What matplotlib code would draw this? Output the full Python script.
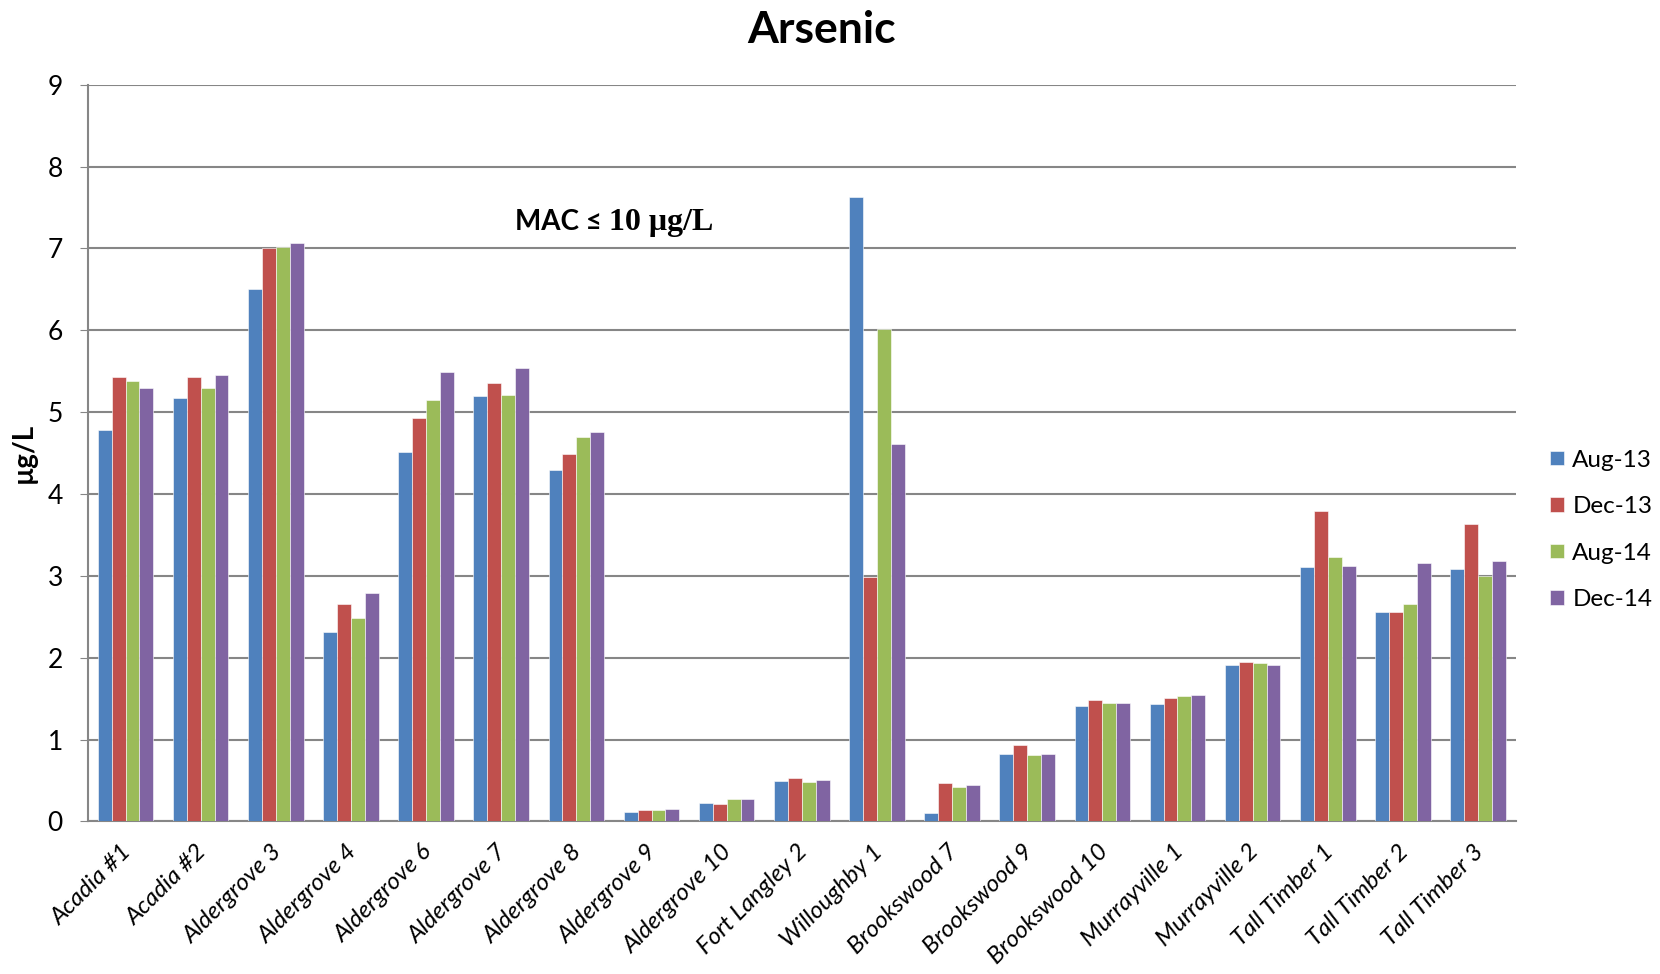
import numpy as np
import matplotlib.pyplot as plt
from matplotlib.transforms import ScaledTranslation

plt.rcParams['font.family'] = ['Lato', 'DejaVu Sans']

sites = ["Acadia #1", "Acadia #2", "Aldergrove 3", "Aldergrove 4", "Aldergrove 6",
         "Aldergrove 7", "Aldergrove 8", "Aldergrove 9", "Aldergrove 10",
         "Fort Langley 2", "Willoughby 1", "Brookswood 7", "Brookswood 9",
         "Brookswood 10", "Murrayville 1", "Murrayville 2", "Tall Timber 1",
         "Tall Timber 2", "Tall Timber 3"]

aug13 = [4.78, 5.17, 6.51, 2.31, 4.51, 5.20, 4.29, 0.12, 0.23, 0.50,
         7.63, 0.10, 0.83, 1.41, 1.44, 1.91, 3.11, 2.56, 3.08]
dec13 = [5.43, 5.43, 7.00, 2.66, 4.93, 5.36, 4.49, 0.14, 0.21, 0.53,
         2.99, 0.47, 0.93, 1.49, 1.51, 1.95, 3.79, 2.56, 3.64]
aug14 = [5.38, 5.29, 7.02, 2.49, 5.15, 5.21, 4.70, 0.14, 0.27, 0.48,
         6.02, 0.42, 0.81, 1.45, 1.53, 1.94, 3.23, 2.66, 3.00]
dec14 = [5.29, 5.46, 7.07, 2.79, 5.49, 5.54, 4.76, 0.15, 0.28, 0.51,
         4.61, 0.44, 0.82, 1.45, 1.55, 1.91, 3.12, 3.16, 3.18]

series = [("Aug-13", aug13, "#4F81BD"),
          ("Dec-13", dec13, "#C0504D"),
          ("Aug-14", aug14, "#9BBB59"),
          ("Dec-14", dec14, "#8064A2")]

fig = plt.figure(figsize=(16.6, 9.74), dpi=100)
ax = fig.add_axes([0.053, 0.1566, 0.86, 0.7564])

x = np.arange(len(sites))
w = 0.185
for i, (name, vals, col) in enumerate(series):
    ax.bar(x + (i - 1.5) * w, vals, w, color=col, label=name,
           edgecolor='white', linewidth=0.4, zorder=3)

ax.set_ylim(0, 9)
ax.set_xlim(-0.5, len(sites) - 0.5)
ax.set_yticks(range(10))
ax.yaxis.grid(True, color='#868686', linewidth=1.5, zorder=0)
ax.tick_params(axis='y', labelsize=19, length=6, color='#868686', pad=12)
ax.tick_params(axis='x', length=0, pad=14)
ax.set_xticks(x)
ax.set_xticklabels(sites, rotation=45, ha='right', rotation_mode='anchor',
                   fontsize=17.5, style='italic')
# nudge rotated labels a little to the left
shift = ScaledTranslation(-0.05, 0, fig.dpi_scale_trans)
for lbl in ax.get_xticklabels():
    lbl.set_transform(lbl.get_transform() + shift)

for side in ['top', 'right']:
    ax.spines[side].set_visible(False)
for side in ['left', 'bottom']:
    ax.spines[side].set_color('#868686')
    ax.spines[side].set_linewidth(1.5)

ax.set_ylabel("µg/L", fontsize=20, fontweight='bold', labelpad=8)
fig.suptitle("Arsenic", x=0.495, y=0.99, fontsize=32, fontweight='bold')

# MAC note: sans prefix, serif value
ax.text(6.43, 7.32, "MAC ≤ ", fontsize=20, fontweight='bold', ha='right', va='center')
ax.text(6.43, 7.32, "10 μg/L", fontsize=23, fontweight='bold', ha='left', va='center',
        family=['Liberation Serif', 'DejaVu Serif'])

fig.legend(loc='center left', bbox_to_anchor=(0.934, 0.456), frameon=False,
           fontsize=17.5, handlelength=0.55, handleheight=0.55, handletextpad=0.35,
           labelspacing=1.05, borderaxespad=0, borderpad=0)

fig.savefig("out.png", dpi=100)
